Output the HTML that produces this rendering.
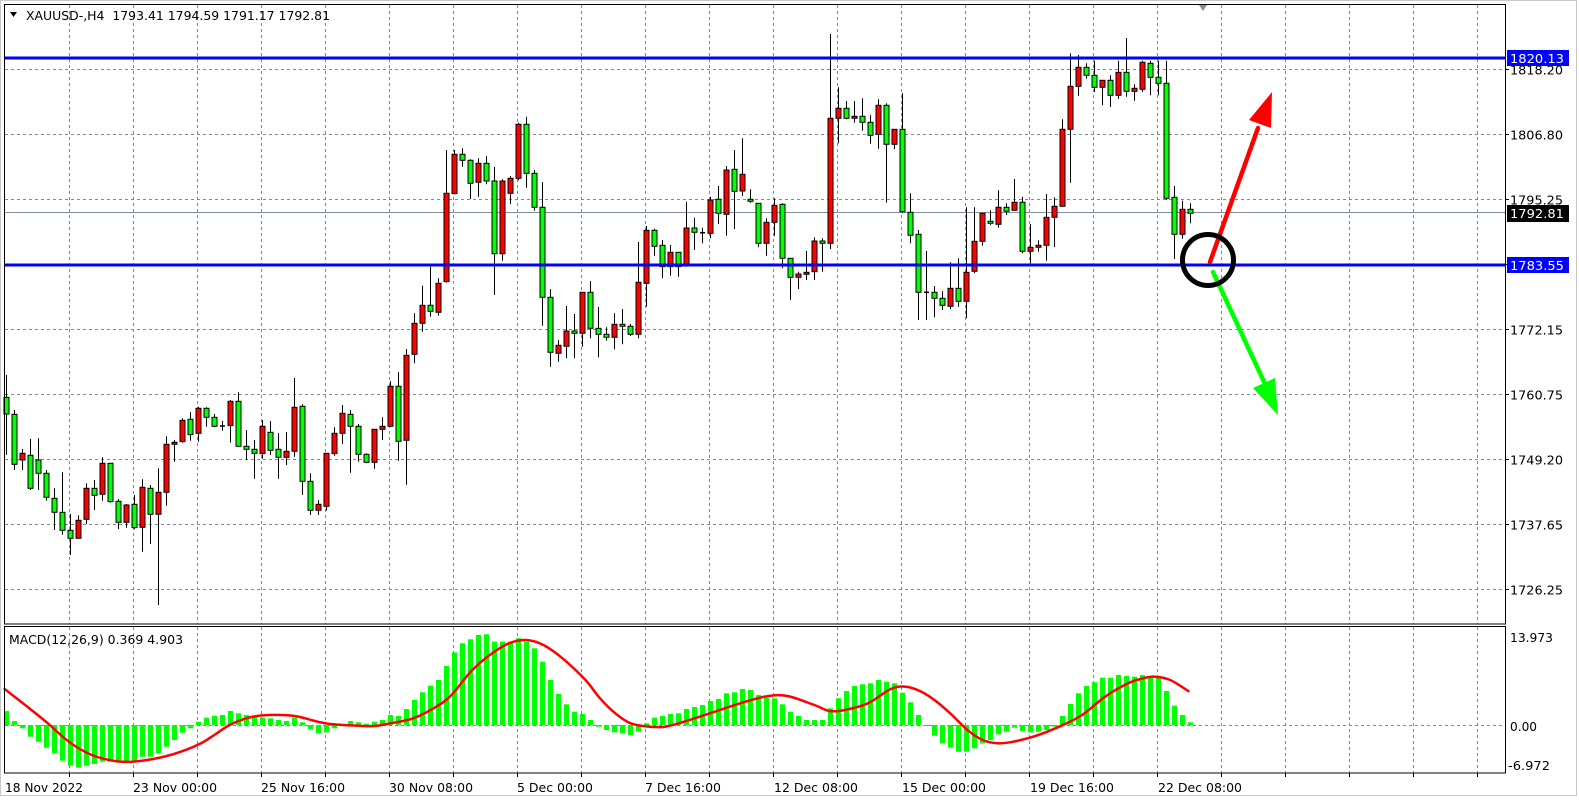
<!DOCTYPE html>
<html><head><meta charset="utf-8"><style>
html,body{margin:0;padding:0;background:#fff;}
svg{display:block;font-family:"DejaVu Sans","Liberation Sans",sans-serif;}
</style></head><body>
<svg id="s" width="1579" height="803" xmlns="http://www.w3.org/2000/svg"></svg>
<script>
var out=[];
function A(s){out.push(s);}
// frame
A('<rect x="0" y="0" width="1579" height="803" fill="#fff"/>');
A('<rect x="0.5" y="0.5" width="1576" height="795" fill="none" stroke="#c8c8c8"/>');
// grid
var g='stroke="#7a8a9a" stroke-width="1" stroke-dasharray="3,3" shape-rendering="crispEdges"';
for(var k=1;k<=23;k++){var x=5.5+64*k; if(x>1503)break;
 A('<line x1="'+x+'" y1="5" x2="'+x+'" y2="624" '+g+'/>');
 A('<line x1="'+x+'" y1="627" x2="'+x+'" y2="773" '+g+'/>');
 A('<line x1="'+x+'" y1="773" x2="'+x+'" y2="777" stroke="#000" shape-rendering="crispEdges"/>');}
var gy=[69.5,134.5,199.5,264.5,329.5,394.5,459.5,524.5,589.5];
gy.forEach(function(y){A('<line x1="5" y1="'+y+'" x2="1505" y2="'+y+'" '+g+'/>');
 A('<line x1="1505" y1="'+y+'" x2="1509" y2="'+y+'" stroke="#000" shape-rendering="crispEdges"/>');});
A('<line x1="5" y1="725.5" x2="1505" y2="725.5" '+g+'/>');
// current price line
A('<line x1="5" y1="212.5" x2="1505" y2="212.5" stroke="#8090a0" shape-rendering="crispEdges"/>');
// candles
function parse(str,oy,start){str.trim().split(/\n/).forEach(function(l,j){var p=l.trim().split(/\s+/);
 var i=start+j,cx=6+8*i,c=p[0],bt=oy+(+p[1])/3,bb=oy+(+p[2])/3,wt=oy+(+p[3])/3,wb=oy+(+p[4])/3;
 A('<line x1="'+(cx+0.5)+'" y1="'+wt.toFixed(1)+'" x2="'+(cx+0.5)+'" y2="'+wb.toFixed(1)+'" stroke="#000" stroke-width="1"/>');
 if(c=='d'||bb-bt<1.5){A('<line x1="'+(cx-2)+'" y1="'+bt.toFixed(1)+'" x2="'+(cx+3)+'" y2="'+bt.toFixed(1)+'" stroke="#000" stroke-width="1.5"/>');
  if(c!='d')A('<rect x="'+(cx-2)+'" y="'+(bt-1).toFixed(1)+'" width="5" height="3" fill="'+(c=='r'?'#f00':'#0f0')+'" stroke="#000" stroke-width="1"/>');}
 else A('<rect x="'+(cx-2)+'" y="'+bt.toFixed(1)+'" width="5" height="'+(bb-bt).toFixed(1)+'" fill="'+(c=='r'?'#f00':'#0f0')+'" stroke="#000" stroke-width="1"/>');
});}
parse(`g 172 222 105 345
g 223 373 210 390
r 340 360 327 390
g 346 445 297 450
g 360 400 295 450
g 400 472 390 482
g 475 517 445 570
g 517 571 397 584
g 571 595 522 645
r 541 595 526 595
r 445 538 430 552
g 445 466 420 510
r 370 463 352 482
g 370 485 370 488
g 484 547 477 567
r 495 547 492 563
g 493 563 465 568
r 442 562 418 635
g 445 523 435 612
r 457 523 385 795
r 313 457 289 497
r 307 313 300 365
r 241 305 235 308
g 238 284 216 302
r 205 280 200 305
g 205 232 202 260
g 232 259 222 262
d 258 258 243 272
r 184 257 180 308
g 184 319 157 319
g 319 328 270 360
g 328 340 300 416
r 259 341 240 356
g 277 331 243 345
g 328 352 279 416
r 334 352 276 375
r 202 334 114 350
g 199 424 193 465
g 424 511 400 525
r 493 511 480 525
r 340 499 340 512
r 280 341 262 347
r 220 280 195 312
g 223 259 210 398
g 259 343 252 365
g 343 367 340 370
r 268 367 268 386
r 259 268 232 300
r 139 259 124 260
g 139 304 96 362
r 46 301 27 434`,340,0);
parse(`r 670 763 640 790
r 616 670 557 695
g 616 634 500 650
r 550 637 535 647
r 280 545 150 548
r 163 281 150 283
g 163 181 145 200
g 181 250 178 297
r 190 247 175 290
g 190 243 168 253
g 243 461 201 585
r 243 461 238 482
r 235 280 228 313
r 73 235 68 241
g 73 220 50 263
g 220 322 210 332
g 322 592 246 677
g 592 757 567 800
r 736 760 720 785
r 693 739 618 775
g 693 700 642 775
r 577 700 577 740
g 577 685 543 715
g 685 703 621 772
g 703 712 682 722
r 673 712 640 748
g 673 679 627 733
g 679 703 672 708
r 547 703 426 715
r 391 550 378 620
g 391 439 386 467
g 436 500 420 535
r 457 500 435 527
g 457 500 457 530
r 384 497 305 500
g 384 397 353 450
d 398 398 383 430
r 300 400 290 415
g 298 340 258 372
r 210 343 198 407
g 208 274 150 387
r 223 273 115 288
g 298 304 268 308
g 310 430 310 442
r 367 430 355 467
r 316 367 295 407
g 313 475 310 505
g 475 532 475 600
r 522 532 515 567`,100,51);
parse(`r 727 733 663 750
r 633 725 622 750
g 633 640 625 725
r 265 640 12 657
r 235 265 172 340
g 235 265 213 268
r 259 265 213 278
g 259 277 205 302
g 277 316 256 341
r 226 313 208 356
g 226 343 220 518
r 298 343 298 358
g 298 545 190 550
g 547 616 490 640
g 613 787 600 870
d 787 787 663 870
g 787 805 768 862
g 805 826 784 840
r 775 829 697 838
g 775 814 685 830
r 727 814 532 865
r 634 724 532 730
r 550 634 548 647
g 574 580 541 585
r 532 583 481 593
g 532 544 520 555
r 517 541 447 541
g 517 664 500 670
r 652 664 582 700
r 646 652 631 665
r 562 646 492 692
r 529 562 502 651
r 298 529 268 529
r 169 298 70 458
r 112 169 75 197
g 112 136 100 146
g 136 172 92 186
r 151 172 151 226
g 151 196 136 231
r 127 196 92 207
g 127 184 24 200
r 175 184 163 212
r 97 178 92 186
g 100 142 92 196
g 142 160 92 196
g 160 505 92 510
g 502 613 468 687
r 538 613 512 626
g 538 550 520 580`,30,100);
// blue lines
A('<rect x="4" y="56.5" width="1501" height="3" fill="#0000ff"/>');
A('<rect x="4" y="263.5" width="1501" height="3" fill="#0000ff"/>');
// arrows
A('<line x1="1210" y1="262" x2="1258" y2="128" stroke="#f00" stroke-width="4.5" stroke-linecap="round"/>');
A('<polygon points="1249,120 1272,92 1271,128" fill="#f00"/>');
A('<line x1="1213" y1="272" x2="1266" y2="386" stroke="#0f0" stroke-width="4.5" stroke-linecap="round"/>');
A('<polygon points="1253,388 1278,415 1275,378" fill="#0f0"/>');
A('<circle cx="1208" cy="260" r="25.5" fill="none" stroke="#000" stroke-width="5"/>');
// MACD histogram
var h1=[288,318,340,365,380,398,415,437,452,458,452,447,440,440,440,440,440,425,425,415,395,375,353,340,320,308,302,300,288,295,300,302,308,310,315,318,308,322,343,355,352,340,328,318,322,326,320,315,300,303,282,255,232,212,195,153,112,85,73,60,58,80,80,80,70,80,100,140,195,237,268,290,297,315,335,
345,352,355,360,350,325,308,303,297,295,282,276,270,258,252,235,232,222,225,240,248,250,268,290,303,315,315,315,280,250,228,213,208,205,195,200,205,233,262,300,333,362,385,398,410,410,400,385,375,358,350,338,348,352,350,345,335,303,267,235,213,202,188,188,180,183,185,180,185,188,228,272,300,322];
var z=725;
h1.forEach(function(v,i){var y=615+v/3,cx=6+8*i;var t=Math.min(y,z),b=Math.max(y,z);if(b-t<1)b=t+1;
 A('<rect x="'+(cx-2)+'" y="'+t.toFixed(1)+'" width="5" height="'+(b-t).toFixed(1)+'" fill="#00ff00"/>');});
// signal
var s4=[[10,220],[60,265],[120,320],[180,380],[240,420],[300,438],[345,440],[400,432],[460,415],[520,388],[560,360],[600,330],[650,308],[700,300],[770,303],[830,320],[870,328],[950,333],[980,333],[1020,325],[1080,310],[1140,275],[1180,240],[1230,170],[1280,120],[1330,85],[1375,75],[1420,90],[1470,130],[1530,195],[1568,250]];
var s5=[[40,295],[80,325],[130,335],[170,335],[220,320],[300,290],[380,260],[440,243],[490,243],[560,270],[600,288],[640,285],[700,265],[760,222],[800,215],[840,230],[880,260],[920,300],[960,345],[1000,375],[1040,385],[1080,380],[1140,362],[1200,335],[1260,300],[1320,245],[1380,205],[1420,190],[1450,185],[1490,195],[1540,230]];
var pts=[];var f=2.6133;
s4.forEach(function(p){pts.push([p[0]/f,615+p[1]/3]);});
s5.forEach(function(p){pts.push([600+p[0]/f,615+p[1]/3]);});
var d='M'+pts[0][0].toFixed(1)+' '+pts[0][1].toFixed(1);
for(var i=1;i<pts.length;i++){var p0=pts[Math.max(0,i-2)],p1=pts[i-1],p2=pts[i],p3=pts[Math.min(pts.length-1,i+1)];
 d+=' C'+(p1[0]+(p2[0]-p0[0])/6).toFixed(1)+' '+(p1[1]+(p2[1]-p0[1])/6).toFixed(1)+' '+(p2[0]-(p3[0]-p1[0])/6).toFixed(1)+' '+(p2[1]-(p3[1]-p1[1])/6).toFixed(1)+' '+p2[0].toFixed(1)+' '+p2[1].toFixed(1);}
A('<path d="'+d+'" fill="none" stroke="#f00" stroke-width="2.5"/>');
// borders
A('<rect x="4.5" y="4.5" width="1501" height="619.5" fill="none" stroke="#000" shape-rendering="crispEdges"/>');
A('<rect x="4.5" y="626.5" width="1501" height="146.5" fill="none" stroke="#000" shape-rendering="crispEdges"/>');
A('<polygon points="1199,5 1207,5 1203,11" fill="#8090a0"/>');
// texts
function T(x,y,s,w,col,extra){A('<text x="'+x+'" y="'+y+'" font-size="12.5" fill="'+(col||'#000')+'"'+(w?' textLength="'+w+'" lengthAdjust="spacingAndGlyphs"':'')+(extra||'')+'>'+s+'</text>');}
A('<polygon points="10,12 17,12 13.5,17" fill="#000"/>');
T(26,20,'XAUUSD-,H4&#160;&#160;1793.41 1794.59 1791.17 1792.81',304);
T(9,644,'MACD(12,26,9) 0.369 4.903',174);
[['1806.80',134.5],['1795.25',199.5],['1772.15',329.5],['1760.75',394.5],['1749.20',459.5],['1737.65',524.5],['1726.25',589.5],['1818.20',69.5]].forEach(function(a){T(1510,a[1]+5,a[0],53);});
A('<rect x="1507" y="50" width="62" height="16" fill="#0000ff"/>');T(1510,63,'1820.13',54,'#fff');
A('<rect x="1507" y="257" width="62" height="16" fill="#0000ff"/>');T(1510,270,'1783.55',54,'#fff');
A('<rect x="1507" y="205" width="62" height="17" fill="#000"/>');T(1510,218,'1792.81',54,'#fff');
T(1510,642,'13.973',43);T(1510,731,'0.00',27);T(1508,770,'-6.972',42);
var xl=[['18 Nov 2022',5,78],['23 Nov 00:00',133,84],['25 Nov 16:00',261,84],['30 Nov 08:00',389,84],['5 Dec 00:00',517,76],['7 Dec 16:00',645,76],['12 Dec 08:00',774,84],['15 Dec 00:00',902,84],['19 Dec 16:00',1030,84],['22 Dec 08:00',1158,84]];
xl.forEach(function(a){T(a[1],792,a[0],a[2]);});
document.getElementById('s').innerHTML=out.join('');
</script>
</body></html>
